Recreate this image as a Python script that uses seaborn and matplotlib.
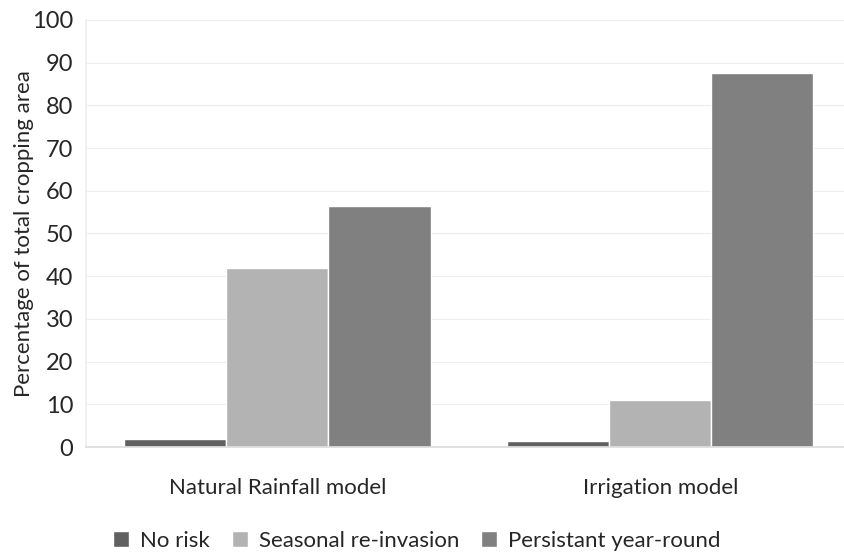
import pandas as pd
import matplotlib.pyplot as plt
import seaborn as sns

# values
models = ['Natural Rainfall model', 'Irrigation model']
risk_levels = ['No risk', 'Seasonal re-invasion', 'Persistant year-round']
no_risk = [1.9, 1.5]
seasonal = [42.0, 11.0]
persistent = [56.5, 87.5]
bar_colors = ['#606060', '#b3b3b3', '#808080']

df = pd.DataFrame({
    'Model': models * 3,
    'Risk': [r for r in risk_levels for _ in models],
    'Percent': no_risk + seasonal + persistent,
})

sns.set_theme(style='white')
plt.rcParams['font.family'] = ['Lato', 'DejaVu Sans']

fig = plt.figure(figsize=(8.44, 5.56), dpi=100)
ax = fig.add_axes([86 / 844, 109 / 556, 758 / 844, 427 / 556])

sns.barplot(data=df, x='Model', y='Percent', hue='Risk', hue_order=risk_levels,
            palette=bar_colors, width=0.8, saturation=1, ax=ax)

ax.set_ylim(0, 100)
ax.set_xlim(-0.5, 1.48)
ax.set_yticks(range(0, 101, 10))
ax.yaxis.grid(True, color='#ededed', linewidth=0.8)
ax.set_axisbelow(True)
for side in ['top', 'right']:
    ax.spines[side].set_visible(False)
ax.spines['left'].set_color('#eeeeee')
ax.spines['bottom'].set_color('#dddddd')
ax.tick_params(axis='y', length=5, color='#e6e6e6', labelsize=17, pad=4)
ax.tick_params(axis='x', length=0, labelsize=16, pad=22)
ax.set_xlabel('')
ax.set_ylabel('Percentage of total cropping area', fontsize=16, labelpad=-1)

handles, labels = ax.get_legend_handles_labels()
ax.get_legend().remove()
fig.legend(handles, labels, loc='center', bbox_to_anchor=(0.494, 15 / 556),
           ncol=3, frameon=False, fontsize=16, handlelength=0.7, handleheight=0.7,
           handletextpad=0.5, columnspacing=1.0)

fig.savefig('out.png', dpi=100)
